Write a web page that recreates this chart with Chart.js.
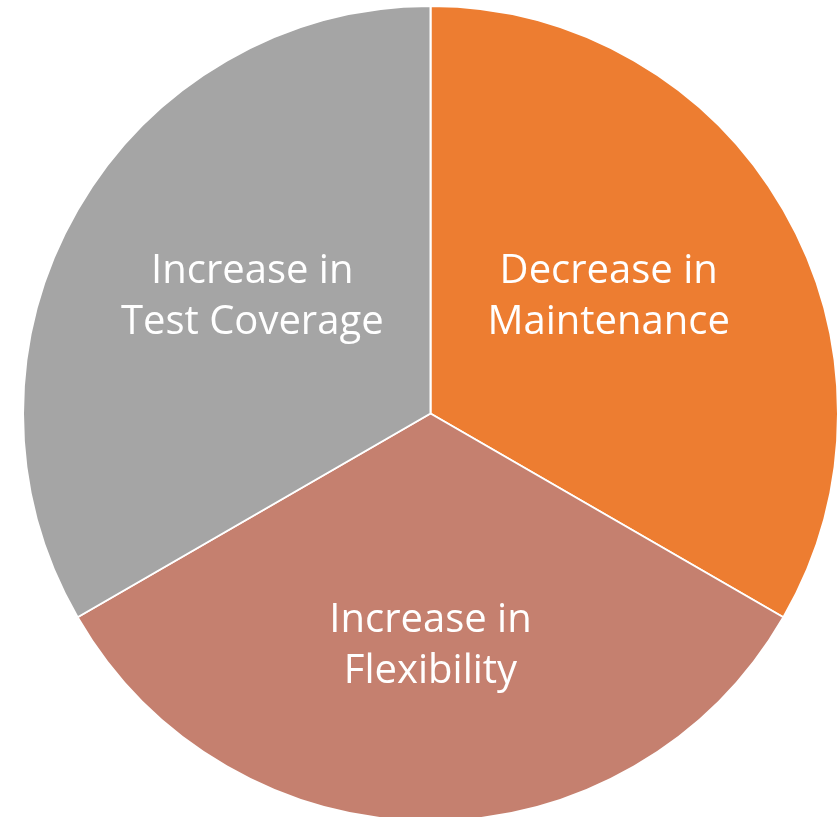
<!DOCTYPE html>
<html>
<head>
<meta charset="utf-8">
<script src="https://cdn.jsdelivr.net/npm/chart.js@4"></script>
<style>
  html, body { margin: 0; padding: 0; background: #fff; overflow: hidden; }
  #wrap { position: relative; width: 839px; height: 834px; }
</style>
</head>
<body>
<div id="wrap"><canvas id="pie-chart"></canvas></div>
<script>
// slices, clockwise from the top
var labels = [["Decrease in", "Maintenance"], ["Increase in", "Flexibility"], ["Increase in", "Test Coverage"]];
var values = [1, 1, 1];
var colors = ["#ED7D31", "#C5806F", "#A5A5A5"];

// white text in the middle of each slice
var sliceLabels = {
  id: "sliceLabels",
  afterDatasetsDraw: function (chart) {
    var ctx = chart.ctx;
    var meta = chart.getDatasetMeta(0);
    ctx.save();
    ctx.fillStyle = "#ffffff";
    ctx.font = "40px 'Open Sans'";
    ctx.textAlign = "center";
    ctx.textBaseline = "middle";
    meta.data.forEach(function (arc, i) {
      var p = arc.getProps(["x", "y", "startAngle", "endAngle", "outerRadius"], true);
      var mid = (p.startAngle + p.endAngle) / 2;
      // labels sit a bit lower than the true centroid, like the original
      var x = p.x + Math.cos(mid) * p.outerRadius * 0.505;
      var y = p.y + Math.sin(mid) * p.outerRadius * 0.57;
      var lines = labels[i];
      lines.forEach(function (line, j) {
        ctx.fillText(line, x, y + (j - (lines.length - 1) / 2) * 51);
      });
    });
    ctx.restore();
  }
};

var ctx = document.getElementById("pie-chart").getContext("2d");
new Chart(ctx, {
  type: "pie",
  data: {
    labels: labels.map(function (l) { return l.join(" "); }),
    datasets: [{
      data: values,
      backgroundColor: colors,
      borderColor: "#ffffff",
      borderWidth: 2,
    }],
  },
  options: {
    responsive: true,
    maintainAspectRatio: false,
    animation: false,
    layout: {
      padding: { top: 5, left: 22, right: 0, bottom: 12 },
    },
    plugins: {
      legend: { display: false },
      tooltip: { enabled: false },
    },
  },
  plugins: [sliceLabels],
});
</script>
</body>
</html>
